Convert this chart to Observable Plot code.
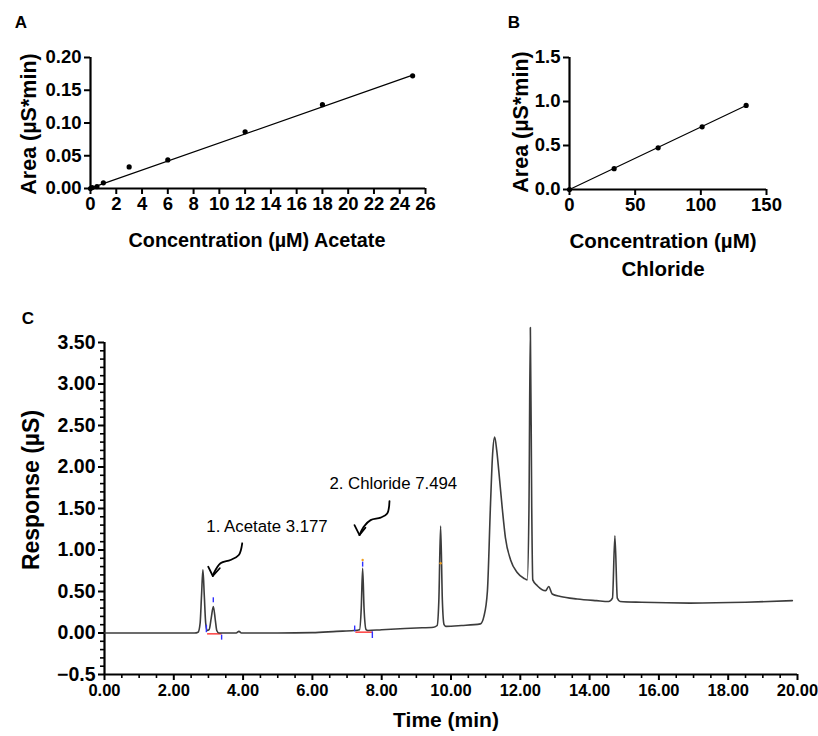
<!DOCTYPE html>
<html>
<head>
<meta charset="utf-8">
<script src="https://cdn.jsdelivr.net/npm/d3@7"></script>
<script src="https://cdn.jsdelivr.net/npm/@observablehq/plot@0.6"></script>
<style>
  html, body { margin: 0; padding: 0; background: #fff; }
  #wrap { position: relative; width: 818px; height: 736px; background: #fff; overflow: hidden;
          font-family: 'Liberation Sans', Arial, sans-serif; color: #000; }
  .panel { position: absolute; }
  .lbl { position: absolute; white-space: nowrap; font-weight: bold; transform: translate(-50%, -50%); line-height: 1; }
  .rot { transform: translate(-50%, -50%) rotate(-90deg); }
</style>
</head>
<body>
<div id="wrap"></div>
<script>
// ---------- DATA ----------
// Panel A: acetate calibration
const acetateConc = [0, 0.125, 0.5, 1, 3, 6, 12, 18, 25];
const acetateArea = [0.0, 0.0015, 0.003, 0.0087, 0.033, 0.0436, 0.0865, 0.128, 0.172];
const acetateFitConc = [0, 25];
const acetateFitArea = [0.0005, 0.173];
const acetateXTicks = [0, 2, 4, 6, 8, 10, 12, 14, 16, 18, 20, 22, 24, 26];
const acetateYTicks = [0, 0.05, 0.10, 0.15, 0.20];

// Panel B: chloride calibration
const chlorideConc = [0, 34, 67.5, 101, 134.5];
const chlorideArea = [0, 0.237, 0.474, 0.712, 0.955];
const chlorideFitConc = [0, 134.5];
const chlorideFitArea = [0, 0.955];
const chlorideXTicks = [0, 50, 100, 150];
const chlorideYTicks = [0, 0.5, 1.0, 1.5];

// Panel C: chromatogram
const timeMin = [0, 1.0, 2.0, 2.6, 2.70, 2.76, 2.80, 2.84, 2.88, 2.92, 2.96, 3.02, 3.08, 3.14, 3.20, 3.24, 3.30,
  3.80, 3.88, 3.95, 5.0, 6.0, 6.7, 7.2, 7.36, 7.41, 7.45, 7.49, 7.55, 7.6, 8.0, 9.0, 9.5, 9.60, 9.65, 9.70, 9.75,
  9.80, 9.85, 10.3, 10.85, 10.95, 11.05, 11.14, 11.20, 11.26, 11.32, 11.38, 11.48, 11.57, 11.72, 11.91, 12.1,
  12.2, 12.25, 12.29, 12.33, 12.36, 12.49, 12.73, 12.82, 12.92, 13.16, 13.64, 14.2, 14.55, 14.66, 14.73, 14.80,
  14.88, 15.5, 16.9, 18.5, 19.85];
const responseUS = [0, 0, 0, 0, 0.01, 0.12, 0.45, 0.76, 0.45, 0.12, 0.03, 0.04, 0.18, 0.32, 0.15, 0.03, 0.0,
  0.0, 0.02, 0.0, 0.0, 0.005, 0.02, 0.03, 0.04, 0.3, 0.78, 0.3, 0.04, 0.03, 0.04, 0.06, 0.07, 0.09, 0.4, 1.29, 0.4,
  0.1, 0.08, 0.09, 0.11, 0.2, 0.5, 1.55, 2.15, 2.36, 2.2, 1.95, 1.5, 1.15, 0.88, 0.73, 0.66,
  0.64, 1.5, 3.68, 1.5, 0.64, 0.57, 0.51, 0.56, 0.47, 0.44, 0.41, 0.39, 0.38, 0.42, 1.17, 0.42,
  0.38, 0.37, 0.36, 0.37, 0.39];
const timeMajorTicks = [0, 2, 4, 6, 8, 10, 12, 14, 16, 18, 20];
const respMajorTicks = [-0.5, 0, 0.5, 1.0, 1.5, 2.0, 2.5, 3.0, 3.5];

// integration markers (blue), baselines (red), apex markers (orange)
const markerTime = [2.94, 3.14, 3.38, 7.22, 7.45, 7.73];
const markerLow  = [0.01, 0.37, -0.08, 0.02, 0.80, -0.06];
const markerHigh = [0.10, 0.43, -0.02, 0.09, 0.86, 0.02];
const baselineStart = [2.96, 7.24];
const baselineEnd   = [3.38, 7.73];
const baselineLevel = [-0.01, 0.01];
const apexTime = [7.45, 9.70];
const apexResp = [0.88, 0.84];

// annotations
const annLabels = ["1. Acetate 3.177", "2. Chloride 7.494"];
const annTextTime = [2.94, 6.49];
const annTextResp = [1.28, 1.80];
const arrow1Time = [3.974, 3.876, 3.636, 3.348, 3.154, 3.126];
const arrow1Resp = [1.081, 0.940, 0.880, 0.840, 0.719, 0.687];
const head1Time = [2.993, 3.126, 3.327];
const head1Resp = [0.799, 0.687, 0.780];
const arrow2Time = [8.225, 8.16, 7.97, 7.68, 7.48, 7.36];
const arrow2Resp = [1.59, 1.44, 1.39, 1.36, 1.28, 1.18];
const head2Time = [7.215, 7.36, 7.53];
const head2Resp = [1.30, 1.18, 1.27];

// ---------- BUILD ----------
const FONT = "'Liberation Sans', Arial, Helvetica, sans-serif";
const wrap = document.getElementById("wrap");
const zip = (a, b) => a.map((v, i) => ({x: v, y: b[i]}));

function place(node, left, top) {
  node.classList.add("panel");
  node.style.left = left + "px";
  node.style.top = top + "px";
  wrap.appendChild(node);
}
function label(text, x, y, size, rot) {
  const d = document.createElement("div");
  d.className = "lbl" + (rot ? " rot" : "");
  d.textContent = text;
  d.style.left = x + "px";
  d.style.top = y + "px";
  d.style.fontSize = size + "px";
  wrap.appendChild(d);
}

const baseStyle = {fontFamily: FONT, fontWeight: "bold", color: "#000", background: "transparent", overflow: "visible"};

// Panel A
const plotA = Plot.plot({
  width: 440, height: 230, marginLeft: 90, marginRight: 15, marginTop: 57, marginBottom: 42,
  x: {domain: [0, 26]}, y: {domain: [0, 0.2]},
  style: baseStyle,
  marks: [
    Plot.axisX({ticks: acetateXTicks, tickSize: 6, tickPadding: 2, strokeWidth: 2, fontSize: 18.5, label: null, tickFormat: d => String(d)}),
    Plot.axisY({ticks: acetateYTicks, tickSize: 6, tickPadding: 3, strokeWidth: 2, fontSize: 18.5, label: null, tickFormat: d3.format(".2f")}),
    Plot.ruleY([0], {strokeWidth: 2.2}),
    Plot.ruleX([0], {strokeWidth: 2.2}),
    Plot.line(zip(acetateFitConc, acetateFitArea), {x: "x", y: "y", stroke: "#000", strokeWidth: 1.2}),
    Plot.dot(zip(acetateConc, acetateArea), {x: "x", y: "y", r: 2.6, fill: "#000", stroke: null})
  ]
});
place(plotA, 0, 0);

// Panel B
const plotB = Plot.plot({
  width: 328, height: 230, marginLeft: 79, marginRight: 52, marginTop: 57, marginBottom: 41,
  x: {domain: [0, 150]}, y: {domain: [0, 1.5]},
  style: baseStyle,
  marks: [
    Plot.axisX({ticks: chlorideXTicks, tickSize: 6, tickPadding: 2, strokeWidth: 2, fontSize: 18.5, label: null, tickFormat: d => String(d)}),
    Plot.axisY({ticks: chlorideYTicks, tickSize: 6, tickPadding: 3, strokeWidth: 2, fontSize: 18.5, label: null, tickFormat: d3.format(".1f")}),
    Plot.ruleY([0], {strokeWidth: 2.2}),
    Plot.ruleX([0], {strokeWidth: 2.2}),
    Plot.line(zip(chlorideFitConc, chlorideFitArea), {x: "x", y: "y", stroke: "#000", strokeWidth: 1.2}),
    Plot.dot(zip(chlorideConc, chlorideArea), {x: "x", y: "y", r: 2.6, fill: "#000", stroke: null})
  ]
});
place(plotB, 490, 0);

// Panel C
const minorX = d3.range(0, 20.01, 0.5).filter(v => Math.abs(v / 2 - Math.round(v / 2)) > 1e-6);
const minorY = d3.range(-5, 36, 1).map(v => v / 10).filter(v => Math.abs(v * 2 - Math.round(v * 2)) > 1e-6);
const fmtY = d => d === -0.5 ? "\u22120.5" : d3.format(".2f")(d);
const trace = zip(timeMin, responseUS);
const markers = markerTime.map((t, i) => ({t, a: markerLow[i], b: markerHigh[i]}));
const baselines = baselineStart.map((s, i) => ({s, e: baselineEnd[i], v: baselineLevel[i]}));
const ann = annLabels.map((s, i) => ({s, x: annTextTime[i], y: annTextResp[i]}));

const plotC = Plot.plot({
  width: 818, height: 426, marginLeft: 104, marginRight: 21, marginTop: 32, marginBottom: 62,
  x: {domain: [0, 20]}, y: {domain: [-0.5, 3.5]},
  style: baseStyle,
  marks: [
    Plot.axisY({ticks: respMajorTicks, tickSize: 6, tickPadding: 3, strokeWidth: 2, fontSize: 19.5, label: null, tickFormat: fmtY}),
    Plot.axisY({ticks: minorY, tickSize: 4, strokeWidth: 1.6, text: null, label: null}),
    Plot.axisX({ticks: timeMajorTicks, tickSize: 6, tickPadding: 4, strokeWidth: 2, fontSize: 16.5, label: null, tickFormat: d3.format(".2f")}),
    Plot.axisX({ticks: minorX, tickSize: 4, strokeWidth: 1.6, text: null, label: null}),
    Plot.ruleY([-0.5], {strokeWidth: 2.2}),
    Plot.ruleX([0], {strokeWidth: 2.2}),
    Plot.link(baselines, {x1: "s", x2: "e", y1: "v", y2: "v", stroke: "#ff4a4a", strokeWidth: 1.6}),
    Plot.line(trace, {x: "x", y: "y", curve: "monotone-x", stroke: "#3c3c3c", strokeWidth: 1.6}),
    Plot.link(markers, {x1: "t", x2: "t", y1: "a", y2: "b", stroke: "#3030ff", strokeWidth: 1.4}),
    Plot.dot(zip(apexTime, apexResp), {x: "x", y: "y", r: 1.2, fill: "#f0a020", stroke: null}),
    Plot.text(ann, {x: "x", y: "y", text: "s", textAnchor: "start", fontSize: 16.8, fontWeight: "normal", fontFamily: FONT, fill: "#000"}),
    Plot.line(zip(arrow1Time, arrow1Resp), {x: "x", y: "y", curve: "catmull-rom", stroke: "#000", strokeWidth: 1.8}),
    Plot.line(zip(head1Time, head1Resp), {x: "x", y: "y", stroke: "#000", strokeWidth: 1.8}),
    Plot.line(zip(arrow2Time, arrow2Resp), {x: "x", y: "y", curve: "catmull-rom", stroke: "#000", strokeWidth: 1.8}),
    Plot.line(zip(head2Time, head2Resp), {x: "x", y: "y", stroke: "#000", strokeWidth: 1.8})
  ]
});
place(plotC, 0, 310);

// Labels
label("A", 21, 22, 17, false);
label("B", 514, 22, 17, false);
label("C", 28, 318, 17, false);
label("Area (\u00b5S*min)", 30, 124, 21.5, true);
label("Area (\u00b5S*min)", 522, 122, 21.5, true);
label("Concentration (\u00b5M) Acetate", 257, 241, 19.8, false);
label("Concentration (\u00b5M)", 663, 241, 20.5, false);
label("Chloride", 663, 269, 20.5, false);
label("Response (\u00b5S)", 31, 490, 23, true);
label("Time (min)", 446, 719, 21, false);
</script>
</body>
</html>
